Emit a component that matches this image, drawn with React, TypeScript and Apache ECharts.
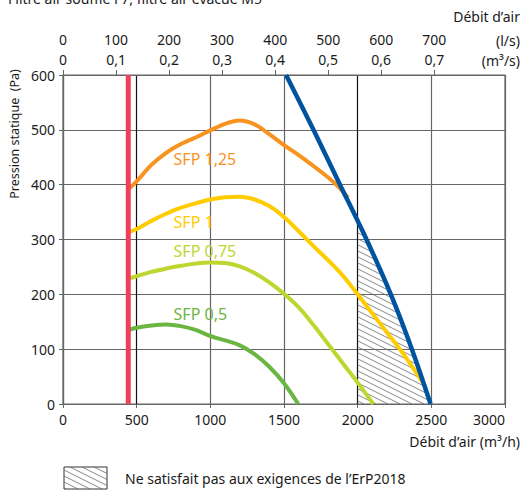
import React, { useEffect, useRef } from "react";
import * as echarts from "echarts";

const FONT = "'Noto Sans', 'DejaVu Sans', sans-serif";
const TEXT = "#1a1a1a";
const GRID = "#666666";

// axes
const xMin = 0;
const xMax = 3000;
const xInterval = 500;
const yMin = 0;
const yMax = 600;
const yInterval = 100;
const lsTicks = [0, 100, 200, 300, 400, 500, 600, 700];
const m3sLabels = ["0", "0,1", "0,2", "0,3", "0,4", "0,5", "0,6", "0,7"];
const m3hPerLs = 3.6;
const splitColors = ["#666666", "#111111", "#666666", "#666666", "#111111", "#666666", "#666666"];

// curves (m3/h, Pa)
const sfp125 = [[445, 392], [500, 406], [600, 436], [700, 458], [800, 474], [900, 486], [1000, 499], [1100, 511], [1200, 517], [1300, 510], [1400, 492], [1500, 472], [1600, 454], [1700, 434], [1800, 413], [1870, 396], [1935, 376]];
const sfp1 = [[445, 313], [500, 319], [600, 334], [700, 347], [800, 358], [900, 366], [1000, 373], [1100, 377], [1200, 378], [1300, 373], [1400, 361], [1500, 341], [1600, 315], [1700, 288], [1800, 262], [1900, 234], [2000, 200], [2100, 165], [2200, 130], [2300, 95], [2400, 56], [2440, 40]];
const sfp075 = [[445, 229], [500, 233], [600, 241], [700, 247], [800, 252], [900, 256], [1000, 258], [1100, 257], [1200, 251], [1300, 239], [1400, 222], [1500, 201], [1600, 176], [1700, 144], [1800, 109], [1900, 74], [2000, 39], [2106, 0]];
const sfp05 = [[445, 135], [500, 139], [600, 143], [700, 145], [800, 142], [900, 135], [1000, 124], [1100, 116], [1200, 107], [1300, 91], [1400, 68], [1500, 38], [1597, 0]];
const maxCurve = [[1514, 600], [1700, 500], [1880, 400], [2060, 300], [2225, 200], [2368, 100], [2495, 0]];
const minFlowLine = [[443, 0], [443, 600]];
const hatchRegion = [[2000, 0], [2000, 333], [2060, 300], [2225, 200], [2368, 100], [2495, 0]];

const curveNames = ["SFP 1,25", "SFP 1", "SFP 0,75", "SFP 0,5"];
const curveLabelAt = [[747, 446], [747, 332], [747, 279], [747, 164]];
const curveColors = ["#F7931E", "#FFCC00", "#BED62F", "#6BB642"];
const curveData = [sfp125, sfp1, sfp075, sfp05];

function hatchLines(poly: number[][], slope: number, step: number) {
  const cs = poly.map(([x, y]) => y - slope * x);
  const cMin = Math.min(...cs);
  const cMax = Math.max(...cs);
  const segs: number[][] = [];
  for (let c = Math.ceil(cMin / step) * step; c <= cMax; c += step) {
    const xs: number[] = [];
    for (let i = 0; i < poly.length; i++) {
      const [x1, y1] = poly[i];
      const [x2, y2] = poly[(i + 1) % poly.length];
      const f1 = y1 - slope * x1 - c;
      const f2 = y2 - slope * x2 - c;
      if ((f1 < 0 && f2 >= 0) || (f1 >= 0 && f2 < 0)) {
        const t = f1 / (f1 - f2);
        xs.push(x1 + t * (x2 - x1));
      }
    }
    xs.sort((a, b) => a - b);
    for (let k = 0; k + 1 < xs.length; k += 2) {
      segs.push([xs[k], slope * xs[k] + c, xs[k + 1], slope * xs[k + 1] + c]);
    }
  }
  return segs;
}

function hatchElements(poly: number[][]) {
  return hatchLines(poly, 0.5, 6).map((s) => ({
    type: "line",
    shape: { x1: s[0], y1: s[1], x2: s[2], y2: s[3] },
    style: { stroke: "#6a6a6a", lineWidth: 0.8 },
    silent: true,
  }));
}

export default function App() {
  const ref = useRef<HTMLDivElement>(null);

  useEffect(() => {
    if (!ref.current) return;
    const chart = echarts.init(ref.current, null, { renderer: "svg" });

    const legendBox = [[64, 467], [107, 467], [107, 489], [64, 489]];

    const curveSeries = curveData.map((d, i) => ({
      type: "line",
      name: curveNames[i],
      data: d,
      smooth: 0.35,
      showSymbol: false,
      symbol: "none",
      lineStyle: { color: curveColors[i], width: 4 },
      itemStyle: { color: curveColors[i] },
      z: 3,
      markPoint: {
        symbol: "circle",
        symbolSize: 1,
        itemStyle: { color: "transparent" },
        data: [{ coord: curveLabelAt[i] }],
        label: {
          show: true,
          position: "right",
          distance: 0,
          formatter: curveNames[i],
          color: curveColors[i],
          fontSize: 16,
          fontFamily: FONT,
        },
      },
    }));

    const option: any = {
      animation: false,
      backgroundColor: "#ffffff",
      textStyle: { fontFamily: FONT },
      grid: {
        left: 63,
        top: 75,
        width: 442,
        height: 329,
        show: true,
        borderColor: GRID,
        borderWidth: 1.2,
        backgroundColor: "transparent",
      },
      xAxis: [
        {
          type: "value",
          min: xMin,
          max: xMax,
          interval: xInterval,
          position: "bottom",
          axisLine: { show: true, lineStyle: { color: GRID, width: 1.2 } },
          axisTick: { show: true, length: 4, lineStyle: { color: GRID } },
          axisLabel: {
            color: TEXT,
            fontSize: 14,
            fontFamily: FONT,
            margin: 8,
            alignMaxLabel: "right",
            formatter: (v: number) => String(v),
          },
          splitLine: { show: true, lineStyle: { color: splitColors, width: 1.2 } },
        },
        {
          type: "value",
          min: xMin / m3hPerLs,
          max: xMax / m3hPerLs,
          position: "top",
          axisLine: { show: true, lineStyle: { color: GRID, width: 1.2 } },
          axisTick: { show: true, length: 5, customValues: lsTicks, lineStyle: { color: GRID } },
          axisLabel: {
            customValues: lsTicks,
            margin: 6,
            color: TEXT,
            fontFamily: FONT,
            formatter: (v: number) => {
              const i = Math.round(v / 100);
              return `{a|${lsTicks[i]}}\n{b|${m3sLabels[i]}}`;
            },
            rich: {
              a: { fontSize: 14, lineHeight: 20, color: TEXT, fontFamily: FONT },
              b: { fontSize: 14, lineHeight: 20, color: TEXT, fontFamily: FONT },
            },
          },
          splitLine: { show: false },
        },
      ],
      yAxis: {
        type: "value",
        min: yMin,
        max: yMax,
        interval: yInterval,
        axisLine: { show: true, lineStyle: { color: GRID, width: 1.2 } },
        axisTick: { show: true, length: 4, lineStyle: { color: GRID } },
        axisLabel: { color: TEXT, fontSize: 14, fontFamily: FONT, margin: 8 },
        splitLine: { show: true, lineStyle: { color: GRID, width: 1.2 } },
      },
      series: [
        {
          type: "custom",
          xAxisIndex: 0,
          yAxisIndex: 0,
          silent: true,
          clip: false,
          z: 1,
          data: [[hatchRegion[0][0], hatchRegion[0][1]]],
          renderItem: (_params: any, api: any) => {
            const pts = hatchRegion.map((p) => api.coord(p));
            return { type: "group", children: hatchElements(pts) };
          },
        },
        ...curveSeries,
        {
          type: "line",
          name: "max",
          data: maxCurve,
          smooth: 0.3,
          showSymbol: false,
          symbol: "none",
          lineStyle: { color: "#00539F", width: 4.5 },
          z: 4,
        },
        {
          type: "line",
          name: "min",
          data: minFlowLine,
          showSymbol: false,
          symbol: "none",
          lineStyle: { color: "#EE405A", width: 5 },
          z: 5,
        },
      ],
      graphic: [
        {
          type: "text",
          left: 8,
          top: -9,
          style: { text: "Filtre air soufflé F7, filtre air évacué M5", fontSize: 14, fontFamily: FONT, fill: TEXT },
        },
        {
          type: "text",
          x: 520,
          y: 16,
          style: { text: "Débit d’air", fontSize: 14, fontFamily: FONT, fill: TEXT, align: "right", verticalAlign: "middle" },
        },
        {
          type: "text",
          x: 520,
          y: 40,
          style: { text: "(l/s)", fontSize: 14, fontFamily: FONT, fill: TEXT, align: "right", verticalAlign: "middle" },
        },
        {
          type: "text",
          x: 520,
          y: 60,
          style: { text: "(m³/s)", fontSize: 14, fontFamily: FONT, fill: TEXT, align: "right", verticalAlign: "middle" },
        },
        {
          type: "text",
          x: 520,
          y: 441,
          style: { text: "Débit d’air (m³/h)", fontSize: 14, fontFamily: FONT, fill: TEXT, align: "right", verticalAlign: "middle" },
        },
        {
          type: "text",
          x: 14,
          y: 134,
          rotation: Math.PI / 2,
          style: { text: "Pression statique  (Pa)", fontSize: 12.5, fontFamily: FONT, fill: TEXT, align: "center", verticalAlign: "middle" },
        },
        {
          type: "group",
          children: [
            {
              type: "rect",
              shape: { x: 64, y: 467, width: 43, height: 22 },
              style: { fill: "#ffffff", stroke: "#333333", lineWidth: 1 },
            },
            ...hatchElements(legendBox),
          ],
        },
        {
          type: "text",
          x: 125,
          y: 478,
          style: { text: "Ne satisfait pas aux exigences de l’ErP2018", fontSize: 14, fontFamily: FONT, fill: TEXT, verticalAlign: "middle" },
        },
      ],
    };

    chart.setOption(option);
    return () => chart.dispose();
  }, []);

  return <div ref={ref} style={{ position: "absolute", left: 0, top: 0, width: 523, height: 491 }} />;
}
